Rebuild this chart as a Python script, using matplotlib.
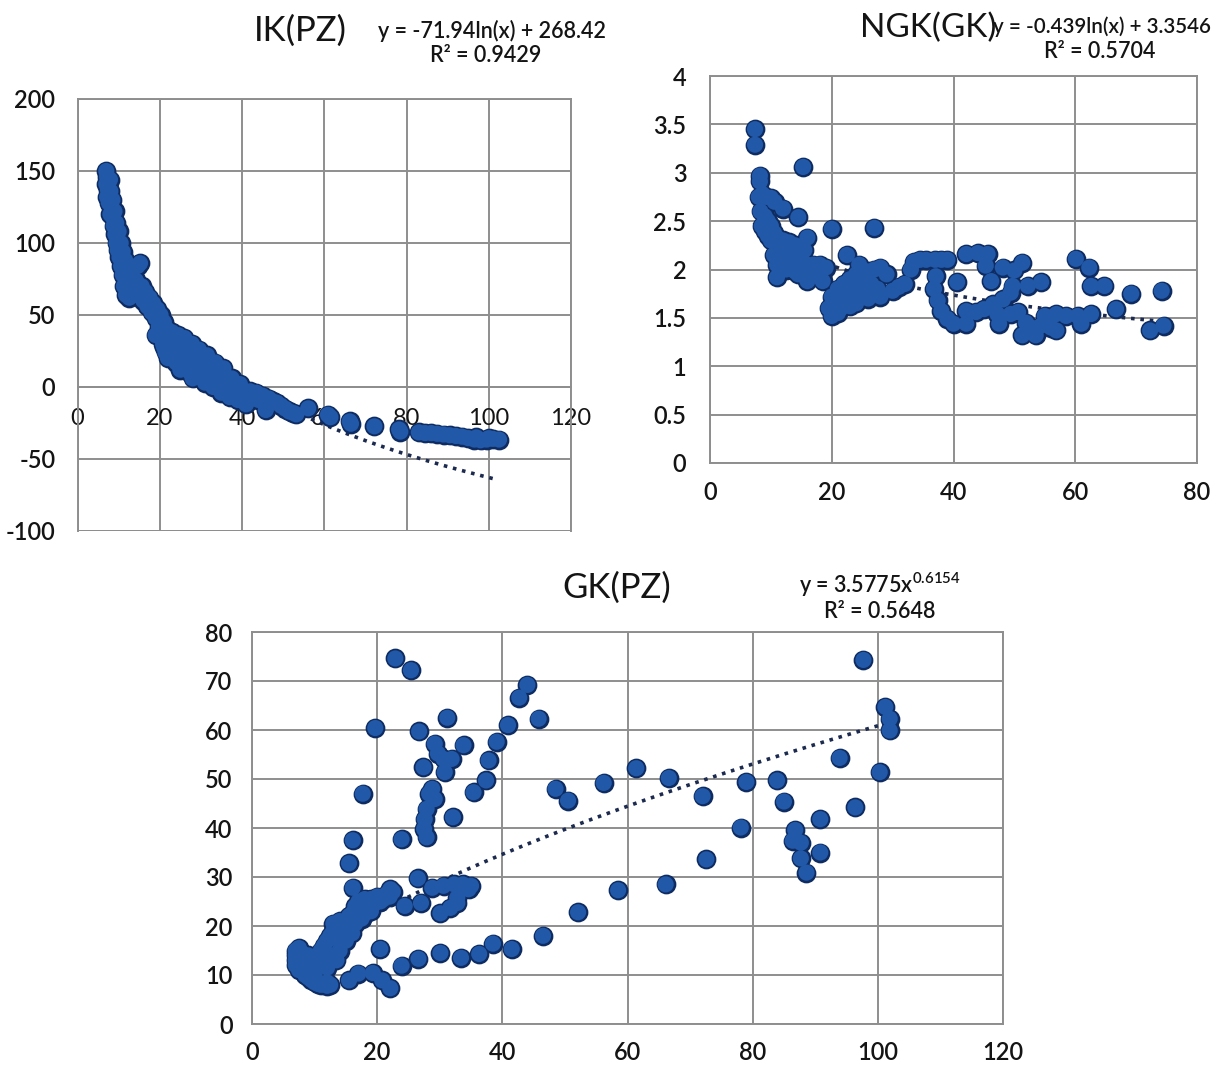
import numpy as np
import matplotlib
matplotlib.use("Agg")
import matplotlib.pyplot as plt

plt.rcParams['font.family'] = ['Lato', 'DejaVu Sans']
plt.rcParams['mathtext.fontset'] = 'custom'
plt.rcParams['mathtext.rm'] = 'Lato:semibold'
plt.rcParams['mathtext.default'] = 'regular'
plt.rcParams['axes.unicode_minus'] = False

# ---------------- data: IK(PZ) ----------------
ik_x = [7.0, 7.2, 7.0, 7.4, 7.2, 7.6, 7.9, 8.0, 8.2, 8.0, 8.5, 8.6, 8.8, 9.0, 9.2, 9.4, 9.5, 9.8,
        10.0, 10.2, 10.5, 10.6, 11.0, 11.0, 11.3, 11.6, 11.8, 12.0, 12.4, 12.6, 13.0, 13.4, 13.8,
        14.2, 14.6, 15.2, 15.0, 15.6, 16.0, 16.5, 17.0, 17.5, 18.0, 18.4, 19.0, 19.4, 19.8, 20.2,
        20.4, 20.8, 21.0, 21.4, 21.8, 22.0, 22.4, 22.8, 23.0, 23.5, 24.0, 24.0, 24.5, 25.0, 25.5,
        25.8, 26.0, 26.5, 27.0, 27.4, 27.8, 28.2, 28.8, 29.0, 29.5, 30.0, 30.5, 31.0, 31.5, 32.0,
        32.5, 33.0, 33.5, 34.0, 34.5, 35.0, 35.5, 36.0, 36.5, 37.0, 37.5, 38.0, 38.5, 39.0, 39.5,
        40.0, 40.5, 41.0, 42.0, 42.5, 43.5, 44.0, 45.0, 45.8, 46.5, 47.5, 48.5, 49.5, 50.5, 51.5,
        52.5, 53.2, 56.1, 60.9, 61.5, 66.2, 66.5, 72.2, 78.2, 78.5, 83.0, 84.5, 86.0, 87.5, 89.0,
        90.5, 92.0, 93.5, 95.0, 96.5, 98.0, 99.5, 101.0, 102.5, 97.0, 100.0,
        22.0, 25.0, 28.0, 31.0, 34.0, 27.0, 33.0, 37.0, 19.0, 21.0]
ik_y = [150, 146, 141, 137, 132, 128, 144, 136, 126, 120, 130, 118, 112, 122, 106, 114, 100, 95,
        108, 90, 100, 84, 94, 78, 70, 88, 64, 82, 72, 62, 78, 68, 64,
        74, 84, 86, 66, 70, 60, 66, 56, 62, 52, 58, 48, 54, 42, 50,
        36, 30, 45, 24, 40, 33, 27, 21, 38, 31, 24, 17, 36, 28, 20,
        13, 34, 25, 17, 10, 30, 22, 14, 7, 26, 18, 10, 3, 22, 14,
        6, 0, 17, 9, 2, -4, 13, 5, -2, -7, 6, 0, -5, -9, 2,
        -4, -9, -12, -3, -8, -4, -9, -6, -16, -8, -10, -11, -13, -15, -17,
        -18, -19, -14.8, -19.3, -21, -23.9, -25.5, -27.3, -29.5, -31, -31.5, -32, -32, -32.5, -33,
        -33.5, -34, -34.5, -35.5, -36.5, -37, -36.5, -36, -36.5, -35, -35.5,
        20, 12, 6, 9, 4, 28, 12, 2, 36, 28]
ik_eq = (-71.94, 268.42)          # y = a*ln(x) + b
ik_trend_range = (7.0, 101.0)

# ---------------- data: NGK(GK) ----------------
ngk_x = [7.4, 7.4, 8.2, 8.2, 15.3, 12.0, 14.5, 16.0, 20.0, 27.0,
         8.0, 8.6, 9.2, 10.0, 10.6, 8.3, 9.0, 9.5, 8.5, 9.0, 10.0, 10.5, 11.0, 9.5, 10.0, 11.0,
         12.0, 13.0, 14.0, 12.5, 11.5, 10.5, 11.0, 12.0, 13.0, 14.0, 15.0, 13.5, 12.5, 11.0,
         14.5, 16.0, 17.0, 18.0, 19.0, 16.0, 18.5, 17.0, 15.5, 14.0,
         19.5, 20.0, 20.5, 21.0, 21.5, 20.0, 22.0, 22.0, 22.5, 23.0, 23.5, 24.0, 24.5, 25.0,
         25.5, 24.0, 26.0, 26.5, 27.0, 27.5, 28.0, 28.0, 29.0, 30.0, 31.0, 32.0, 33.0, 33.5,
         34.5, 35.5, 37.0, 38.0, 39.0, 23.0, 25.0, 21.0, 26.0, 22.5,
         40.6, 37.1, 36.8, 37.4, 38.0, 39.0, 40.0, 42.1, 44.0, 45.6, 45.3, 46.2, 48.1, 50.0,
         49.7, 49.4, 51.3, 52.2, 54.4,
         42.1, 42.1, 43.7, 45.0, 46.5, 47.2, 47.5, 48.1, 49.4, 50.6, 51.3, 51.9, 52.8, 53.5,
         54.4, 55.0, 56.0, 56.9, 56.9, 58.5, 60.4, 61.0, 62.6,
         60.1, 62.3, 62.6, 64.8, 66.7, 69.2, 72.3, 74.2, 74.5]
ngk_y = [3.45, 3.29, 2.97, 2.91, 3.06, 2.63, 2.54, 2.33, 2.42, 2.43,
         2.75, 2.78, 2.75, 2.74, 2.70, 2.60, 2.55, 2.50, 2.45, 2.40, 2.45, 2.38, 2.33, 2.35, 2.30, 2.25,
         2.30, 2.28, 2.25, 2.20, 2.15, 2.15, 2.05, 2.10, 2.15, 2.10, 2.10, 2.00, 2.00, 1.92,
         1.95, 2.05, 2.05, 2.05, 2.02, 1.88, 1.88, 1.95, 2.20, 1.98,
         1.60, 1.52, 1.68, 1.55, 1.60, 1.72, 1.70, 1.85, 2.15, 1.90, 1.78, 1.95, 2.05, 1.88,
         1.75, 1.65, 1.98, 1.85, 2.00, 1.80, 1.72, 2.02, 1.95, 1.78, 1.82, 1.85, 2.00, 2.08,
         2.10, 2.10, 2.10, 2.10, 2.10, 1.62, 2.00, 1.80, 1.70, 1.75,
         1.87, 1.93, 1.80, 1.68, 1.57, 1.49, 1.44, 2.16, 2.17, 2.16, 2.04, 1.88, 2.02, 1.99,
         1.83, 1.76, 2.07, 1.83, 1.87,
         1.57, 1.44, 1.56, 1.59, 1.64, 1.54, 1.44, 1.69, 1.54, 1.56, 1.32, 1.45, 1.40, 1.32,
         1.42, 1.52, 1.40, 1.37, 1.54, 1.52, 1.52, 1.44, 1.54,
         2.11, 2.02, 1.83, 1.83, 1.59, 1.75, 1.37, 1.78, 1.42]
ngk_eq = (-0.439, 3.3546)         # y = a*ln(x) + b
ngk_trend_range = (7.2, 75.0)

# ---------------- data: GK(PZ) ----------------
gk_x = [22.9, 25.4, 19.7, 26.7, 31.2, 17.7, 16.1, 15.5, 16.1, 23.9, 32.1, 29.2, 29.7, 30.6,
        31.9, 27.4, 30.8, 28.8, 28.3, 29.2, 27.9, 27.6, 27.5, 27.9, 33.8, 35.4, 37.4, 37.8,
        39.1, 40.9, 42.7, 44.0, 45.8, 48.5, 50.5, 56.2, 61.4, 66.6, 72.0, 78.1, 79.0, 83.9,
        85.0, 86.8, 86.4, 87.7, 87.7, 88.6, 90.8, 90.8, 93.9, 96.4, 97.7, 100.3, 101.2, 101.9,
        101.9, 72.6, 66.1, 58.5, 52.1, 46.5, 41.5, 38.5, 36.3, 33.4, 30.1, 26.6, 23.9, 20.5,
        22.1, 20.8, 19.3, 17.0, 15.5, 24.4, 27.0, 26.5, 22.1,
        28.8, 30.6, 32.3, 33.7, 35.0, 34.6, 30.1, 31.7, 32.8, 32.8,
        7.0, 7.0, 7.0, 7.0, 7.5, 7.5, 8.0, 8.0, 8.0, 8.5, 8.5, 9.0, 9.0, 9.5, 10.0, 10.5, 11.0,
        11.5, 12.0, 12.5, 10.0, 9.0, 10.0, 10.5, 11.0, 11.5, 12.0, 12.5, 13.0, 13.0, 14.0, 13.5,
        14.5, 15.0, 15.5, 16.0, 16.0, 16.5, 16.5, 17.0, 17.0, 17.5, 17.5, 18.0, 18.0, 18.5, 19.0,
        19.0, 19.5, 20.0, 20.5, 21.0, 21.5, 22.0, 22.5, 15.0, 14.0, 12.0, 11.0, 12.0, 13.0, 13.5,
        8.9, 12.0]
gk_y = [74.6, 72.2, 60.4, 59.7, 62.5, 47.0, 37.5, 32.8, 27.8, 37.7, 42.2, 57.2, 55.2, 54.1,
        54.1, 52.4, 51.4, 48.0, 47.0, 45.9, 43.9, 41.8, 39.8, 38.1, 56.9, 47.3, 49.7, 53.8,
        57.6, 61.0, 66.6, 69.2, 62.3, 48.0, 45.6, 49.2, 52.2, 50.2, 46.5, 40.1, 49.4, 49.7,
        45.4, 39.6, 37.4, 37.0, 33.8, 30.9, 41.8, 35.0, 54.3, 44.2, 74.3, 51.4, 64.7, 62.3,
        59.9, 33.6, 28.5, 27.3, 22.8, 18.0, 15.3, 16.4, 14.3, 13.5, 14.5, 13.3, 11.9, 15.3,
        7.3, 8.9, 10.4, 10.3, 8.9, 24.1, 24.7, 29.7, 27.5,
        27.8, 28.2, 28.5, 28.5, 28.2, 27.5, 22.6, 23.7, 24.7, 25.8,
        15.0, 14.0, 13.0, 12.0, 11.0, 15.5, 14.5, 12.5, 11.0, 10.0, 13.0, 11.5, 9.5, 9.0, 8.5, 8.2, 8.0,
        8.2, 8.5, 8.0, 10.0, 14.0, 13.0, 14.0, 15.0, 16.0, 17.0, 18.0, 19.0, 20.5, 21.0, 17.5,
        19.0, 20.0, 22.0, 18.5, 22.5, 24.0, 20.5, 23.0, 25.0, 21.5, 24.0, 25.5, 22.5, 24.0, 23.0,
        25.5, 24.5, 26.0, 25.0, 25.5, 26.5, 26.0, 27.0, 17.0, 15.0, 13.0, 12.0, 11.5, 14.0, 13.0,
        10.0, 7.8]
gk_eq = (3.5775, 0.6154)          # y = a*x^b
gk_trend_range = (7.0, 102.0)

ik_ticks_x = [0, 20, 40, 60, 80, 100, 120]
ik_ticks_y = [-100, -50, 0, 50, 100, 150, 200]
ngk_ticks_x = [0, 20, 40, 60, 80]
ngk_ticks_y = [0, 0.5, 1, 1.5, 2, 2.5, 3, 3.5, 4]
ngk_ticklabels_y = ['0', '0.5', '1', '1.5', '2', '2.5', '3', '3.5', '4']
gk_ticks_x = [0, 20, 40, 60, 80, 100, 120]
gk_ticks_y = [0, 10, 20, 30, 40, 50, 60, 70, 80]

# ---------------- styling ----------------
W, H = 1218, 1068
fig = plt.figure(figsize=(W / 100, H / 100), dpi=100)
fig.patch.set_facecolor('white')

MFACE = '#2158A8'
MEDGE = '#0E2C62'
GRID = '#8E8E8E'
TXT = '#141414'
TREND = '#1b2a4e'
MS = 135
FW = 'semibold'


def px_axes(left, right, top, bottom):
    return fig.add_axes([left / W, 1 - bottom / H, (right - left) / W, (bottom - top) / H])


def style(ax, xt, yt, xlim, ylim, xpad, ypad, ylabels=None):
    ax.set_xlim(*xlim)
    ax.set_ylim(*ylim)
    ax.set_xticks(xt)
    ax.set_yticks(yt)
    if ylabels is not None:
        ax.set_yticklabels(ylabels)
    ax.grid(True, color=GRID, linewidth=1.4)
    ax.set_axisbelow(True)
    for s in ax.spines.values():
        s.set_color(GRID)
        s.set_linewidth(1.4)
    ax.tick_params(axis='both', length=0, labelsize=17, colors=TXT)
    ax.tick_params(axis='x', pad=xpad)
    ax.tick_params(axis='y', pad=ypad)
    for lab in ax.get_xticklabels() + ax.get_yticklabels():
        lab.set_fontweight(FW)


def scatter(ax, x, y):
    # outline pass, then fill pass so overlapping markers merge into one blob
    ax.scatter(x, y, s=MS, c=MEDGE, edgecolors=MEDGE, linewidths=2.6, zorder=3, clip_on=False)
    ax.scatter(x, y, s=MS, c=MFACE, edgecolors='none', zorder=4, clip_on=False)


# IK(PZ)
ax1 = px_axes(77.5, 571, 99, 531)
style(ax1, ik_ticks_x, ik_ticks_y, (0, 120), (-100, 200), 15, 16)
ax1.spines['bottom'].set_position(('data', 0))
ax1.axhline(-100, color=GRID, lw=1.4, zorder=1)
tx = np.linspace(*ik_trend_range, 200)
ax1.plot(tx, ik_eq[0] * np.log(tx) + ik_eq[1], ls=(0, (1, 1.6)), lw=2.6, color=TREND, zorder=2)
scatter(ax1, ik_x, ik_y)

# NGK(GK)
ax2 = px_axes(710, 1197, 76, 463)
style(ax2, ngk_ticks_x, ngk_ticks_y, (0, 80), (0, 4), 13, 17, ngk_ticklabels_y)
tx = np.linspace(*ngk_trend_range, 200)
ax2.plot(tx, ngk_eq[0] * np.log(tx) + ngk_eq[1], ls=(0, (1, 1.6)), lw=2.6, color=TREND, zorder=2)
scatter(ax2, ngk_x, ngk_y)

# GK(PZ)
ax3 = px_axes(252, 1003, 632, 1024)
style(ax3, gk_ticks_x, gk_ticks_y, (0, 120), (0, 80), 12, 14)
tx = np.linspace(*gk_trend_range, 200)
ax3.plot(tx, gk_eq[0] * tx ** gk_eq[1], ls=(0, (1, 1.6)), lw=2.6, color=TREND, zorder=2)
scatter(ax3, gk_x, gk_y)


def ftext(x, y, s, size, weight=FW, ha='center'):
    fig.text(x / W, 1 - y / H, s, fontsize=size, color=TXT, ha=ha, va='center',
             fontweight=weight)


ftext(300, 31, 'IK(PZ)', 25, 'normal')
ftext(492, 31, 'y = -71.94ln(x) + 268.42', 15.5)
ftext(486, 55, 'R² = 0.9429', 15.5)

ftext(993, 27, 'y = -0.439ln(x) + 3.3546', 14.8, ha='left')
ftext(928, 28, 'NGK(GK)', 24, 'normal')
ftext(1100, 52, 'R² = 0.5704', 15.5)

ftext(617, 588, 'GK(PZ)', 25, 'normal')
ftext(880, 585, 'y = 3.5775x$^{0.6154}$', 15.5)
ftext(880, 611, 'R² = 0.5648', 15.5)

fig.savefig('out.png', dpi=100, facecolor='white')
